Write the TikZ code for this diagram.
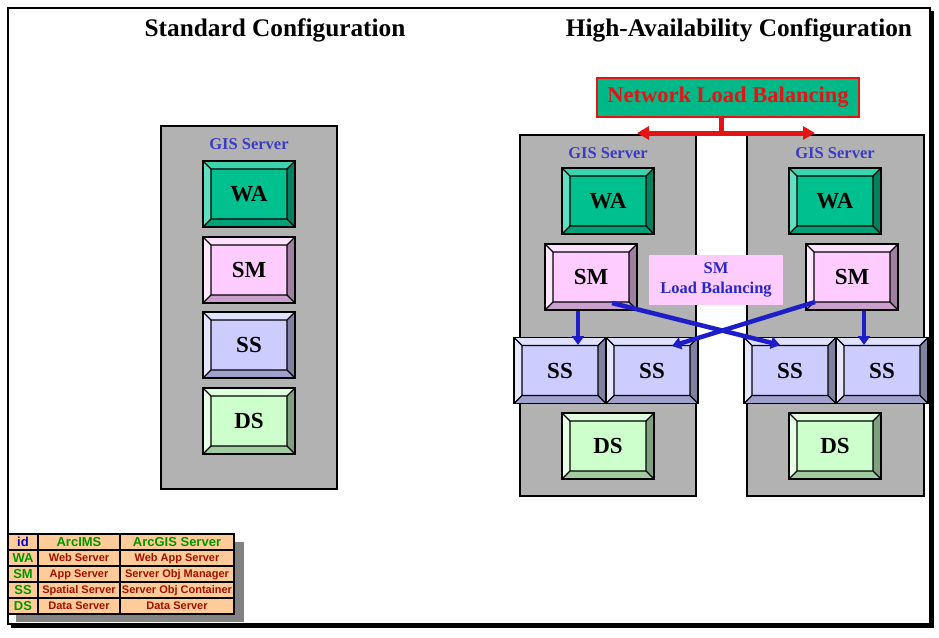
\documentclass[tikz,border=0pt]{standalone}
\usepackage{fontspec}
\setmainfont{Liberation Serif}
\newfontfamily\tabfont{Liberation Sans}
\usetikzlibrary{arrows.meta,positioning}
\definecolor{gisgray}{RGB}{178,178,178}
\definecolor{gisblue}{RGB}{60,60,196}
\definecolor{lbblue}{RGB}{40,40,200}
\definecolor{arrowblue}{RGB}{30,30,200}
\definecolor{nlbred}{RGB}{228,20,20}
\definecolor{nlbfill}{RGB}{0,184,136}
% button colours: face, top, left, right, bottom
\definecolor{wafa}{RGB}{0,192,144}
\definecolor{watp}{RGB}{60,212,172}
\definecolor{walf}{RGB}{96,224,192}
\definecolor{wart}{RGB}{0,128,92}
\definecolor{wabt}{RGB}{0,160,120}
\definecolor{smfa}{RGB}{255,204,255}
\definecolor{smtp}{RGB}{255,226,255}
\definecolor{smlf}{RGB}{255,232,255}
\definecolor{smrt}{RGB}{160,128,160}
\definecolor{smbt}{RGB}{204,160,204}
\definecolor{ssfa}{RGB}{204,204,255}
\definecolor{sstp}{RGB}{224,224,255}
\definecolor{sslf}{RGB}{230,230,255}
\definecolor{ssrt}{RGB}{128,128,160}
\definecolor{ssbt}{RGB}{160,160,204}
\definecolor{dsfa}{RGB}{204,255,204}
\definecolor{dstp}{RGB}{224,255,224}
\definecolor{dslf}{RGB}{230,255,230}
\definecolor{dsrt}{RGB}{128,160,128}
\definecolor{dsbt}{RGB}{160,204,160}
% table colours
\definecolor{tabpeach}{RGB}{255,204,153}
\definecolor{tabgreen}{RGB}{0,150,0}
\definecolor{tabred}{RGB}{160,16,0}
\definecolor{idblue}{RGB}{0,0,204}
\definecolor{tabshadow}{RGB}{130,130,130}

\tikzset{
  bevel/.style n args={5}{draw=black, line width=1.6pt, fill=#1,
    minimum width=92, minimum height=66, inner sep=0pt,
    font=\bfseries\fontsize{23}{23}\selectfont,
    path picture={
      \coordinate (pnw) at (path picture bounding box.north west);
      \coordinate (pne) at (path picture bounding box.north east);
      \coordinate (pse) at (path picture bounding box.south east);
      \coordinate (psw) at (path picture bounding box.south west);
      \coordinate (qnw) at ([shift={(8pt,-8pt)}]pnw);
      \coordinate (qne) at ([shift={(-8pt,-8pt)}]pne);
      \coordinate (qse) at ([shift={(-8pt,8pt)}]pse);
      \coordinate (qsw) at ([shift={(8pt,8pt)}]psw);
      \fill[#2] (pnw) -- (pne) -- (qne) -- (qnw) -- cycle;
      \fill[#3] (pnw) -- (qnw) -- (qsw) -- (psw) -- cycle;
      \fill[#4] (pne) -- (pse) -- (qse) -- (qne) -- cycle;
      \fill[#5] (psw) -- (qsw) -- (qse) -- (pse) -- cycle;
      \draw[line width=1.3pt] (qnw) rectangle (qse)
        (pnw) -- (qnw) (pne) -- (qne) (pse) -- (qse) (psw) -- (qsw);
    }},
  wabtn/.style={bevel={wafa}{watp}{walf}{wart}{wabt}},
  smbtn/.style={bevel={smfa}{smtp}{smlf}{smrt}{smbt}},
  ssbtn/.style={bevel={ssfa}{sstp}{sslf}{ssrt}{ssbt}},
  dsbtn/.style={bevel={dsfa}{dstp}{dslf}{dsrt}{dsbt}},
  gisbox/.style={draw=black, line width=1.8pt, fill=gisgray, inner sep=0pt},
  gislabel/.style={text=gisblue, font=\bfseries\fontsize{16.5}{18}\selectfont},
  title/.style={font=\bfseries\fontsize{25.3}{28}\selectfont},
  smarrow/.style={line width=4.5pt, draw=arrowblue, -{Triangle[length=9pt,width=12pt]}},
  nlbline/.style={line width=5pt, draw=nlbred},
  cell/.style={draw=black, line width=1.2pt, fill=tabpeach, minimum height=16, inner sep=0pt,
    text height=7pt, text depth=1pt,
    font=\tabfont\bfseries\fontsize{11}{11}\selectfont, text=tabred},
  headcell/.style={cell, text height=9pt, text depth=0pt,
    font=\tabfont\bfseries\fontsize{13}{13}\selectfont, text=tabgreen}
}

\begin{document}
\begin{tikzpicture}[x=1pt,y=-1pt]
  \useasboundingbox (0,0) rectangle (939,637);
  % frame
  \fill[black] (11,11) rectangle (934,628);
  \draw[line width=2pt, fill=white] (8,8) rectangle (930,624);

  \node[title] (stdtitle) at (275,30) {Standard Configuration};
  \node[title] (hatitle) at (739,30) {High-Availability Configuration};

  % standard configuration
  \node[gisbox, minimum width=176, minimum height=363] (gisl) at (249,307.5) {};
  \node[gislabel] (gisltxt) at (249,144) {GIS Server};
  \node[wabtn] (wal) at (249,194) {WA};
  \node[smbtn] (sml) at (249,270) {SM};
  \node[ssbtn] (ssl) at (249,345) {SS};
  \node[dsbtn] (dsl) at (249,421) {DS};

  % high-availability configuration
  \node[gisbox, minimum width=176, minimum height=361] (gisa) at (608,315.5) {};
  \node[gisbox, minimum width=177, minimum height=361] (gisb) at (835.5,315.5) {};
  \node[gislabel] (gisatxt) at (608,153) {GIS Server};
  \node[gislabel] (gisbtxt) at (835,153) {GIS Server};

  \node[draw=nlbred, line width=2.5pt, fill=nlbfill, minimum width=262, minimum height=39,
    text=nlbred, font=\bfseries\fontsize{22.5}{24}\selectfont] (nlb) at (728,97.5) {Network Load Balancing};
  \coordinate (nlbl) at (637,133);
  \coordinate (nlbr) at (815,133);
  \draw[nlbline] ([xshift=-7pt]nlb.south) -- ([xshift=-7pt]nlb.south |- nlbl);
  \draw[nlbline, {Triangle[length=12pt,width=13pt]}-{Triangle[length=12pt,width=13pt]}] (nlbl) -- (nlbr);

  \node[wabtn] (waa) at (608,201) {WA};
  \node[wabtn] (wab) at (835,201) {WA};
  \node[smbtn] (sma) at (591,277) {SM};
  \node[smbtn] (smb) at (852,277) {SM};
  \node[ssbtn] (ssa) at (560,370.5) {SS};
  \node[ssbtn] (ssb) at (652,370.5) {SS};
  \node[ssbtn] (ssc) at (790,370.5) {SS};
  \node[ssbtn] (ssd) at (882,370.5) {SS};
  \node[dsbtn] (dsa) at (608,446) {DS};
  \node[dsbtn] (dsb) at (835,446) {DS};

  \node[fill=smfa, minimum width=134, minimum height=50, align=center, text=lbblue,
    font=\bfseries\fontsize{16.5}{20}\selectfont] (smlb) at (716,280) {SM\\Load Balancing};

  % SM to SS
  \draw[smarrow] ([xshift=-13pt]sma.south) -- ([shift={(18,-25.5)}]ssa.center);
  \draw[smarrow] ([shift={(21,26)}]sma.center) -- ([shift={(-10,-25.5)}]ssc.center);
  \draw[smarrow] ([shift={(-37,25)}]smb.center) -- ([shift={(20,-24.5)}]ssb.center);
  \draw[smarrow] ([xshift=12pt]smb.south) -- ([shift={(-18,-25.5)}]ssd.center);

  % legend table
  \fill[tabshadow] (16,542) rectangle (244,622);
  \node[headcell, minimum width=30, text=idblue] (hid) at (23,542) {id};
  \node[headcell, minimum width=82] (hims) at (79,542) {ArcIMS};
  \node[headcell, minimum width=114] (hags) at (177,542) {ArcGIS Server};
  \foreach \r/\k/\a/\b in {1/WA/Web Server/Web App Server,
      2/SM/App Server/Server Obj Manager,
      3/SS/Spatial Server/Server Obj Container,
      4/DS/Data Server/Data Server}{
    \node[headcell, minimum width=30] (id\r) at (23,{542+16*\r}) {\k};
    \node[cell, minimum width=82] (ims\r) at (79,{542+16*\r}) {\a};
    \node[cell, minimum width=114] (ags\r) at (177,{542+16*\r}) {\b};
  }
\end{tikzpicture}
\end{document}
